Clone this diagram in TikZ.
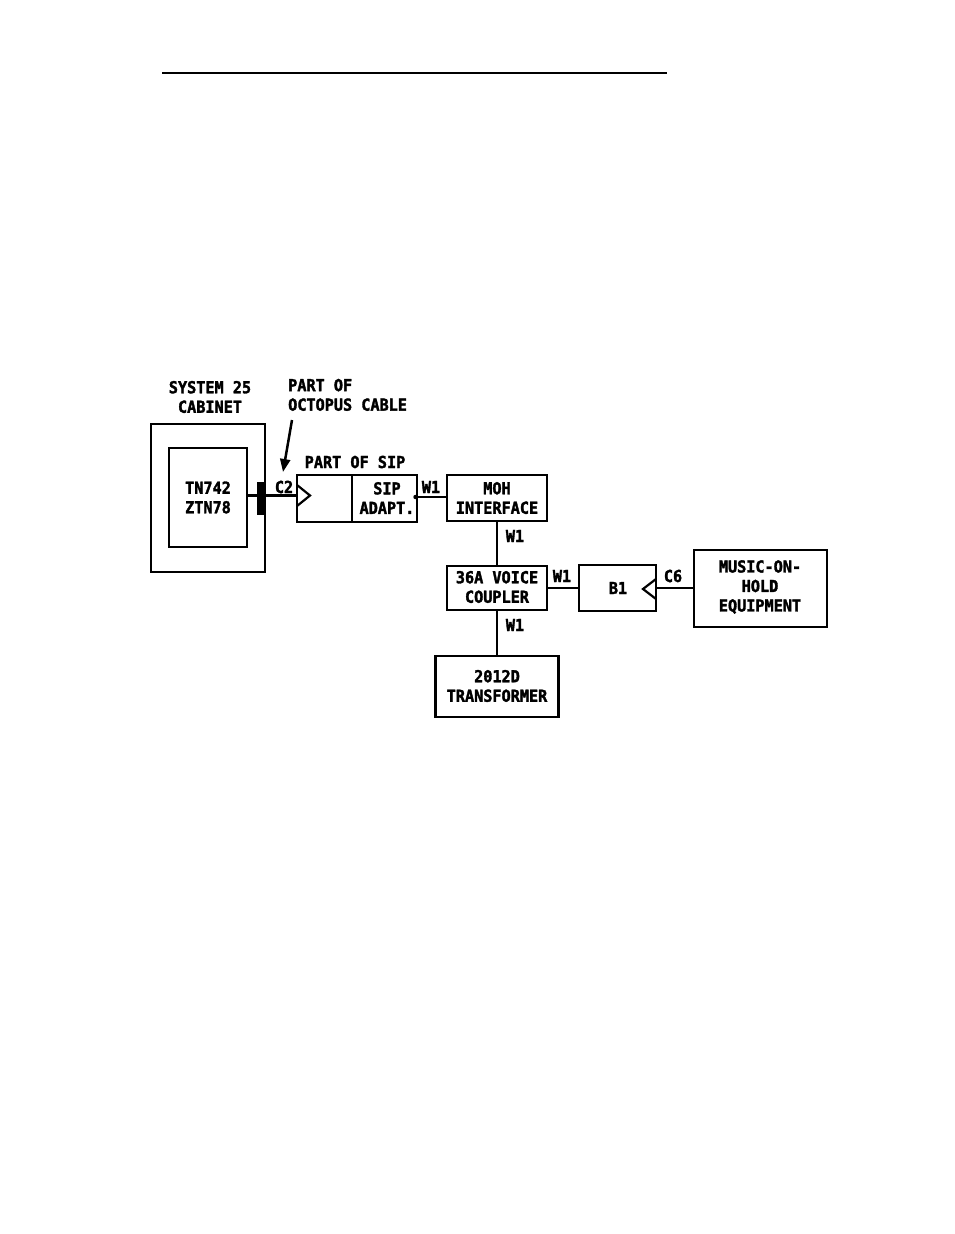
\documentclass[tikz,border=0pt]{standalone}
\usepackage{fontspec}
\setmonofont{DejaVu Sans Mono}[FakeStretch=0.92,FakeBold=2]
\usetikzlibrary{arrows.meta}
\begin{document}
\begin{tikzpicture}[x=1pt,y=-1pt,
  lbl/.style={font=\fontsize{16.5}{19.5}\selectfont\ttfamily\bfseries, inner sep=0pt, align=center},
  blk/.style={draw, line width=2.5pt, inner sep=0pt},
  wire/.style={line width=2.5pt},
  line cap=butt]
\useasboundingbox (0,0) rectangle (954,1234);
% top rule
\draw[line width=2pt] (162,73) -- (667,73);

% labels top
\node[lbl] (sys) at (210,397) {SYSTEM 25\\CABINET};
\node[lbl, anchor=west] (oct) at (288,397) {\begin{tabular}{@{}l@{}}PART OF\\OCTOPUS CABLE\end{tabular}};

% cabinet
\node[blk, minimum width=114pt, minimum height=148pt] (cab) at (208,498) {};
\node[blk, minimum width=78pt, minimum height=99pt] (inner) at (208,497.5) {};
\node[lbl] (tn) at (208,497.5) {TN742\\ZTN78};
\node[fill=black, minimum width=7pt, minimum height=33pt, inner sep=0pt] (bar) at (260.5,498.5) {};

% SIP box
\node[blk, minimum width=120pt, minimum height=47pt] (sip) at (357,498.5) {};
\coordinate (sipdiv1) at (352,475);
\coordinate (sipdiv2) at (352,522);
\draw[line width=2.5pt] (sipdiv1) -- (sipdiv2);
\node[lbl] (sipad) at (387,498) {SIP\\ADAPT.};
\node[lbl] (partsip) at (355,462) {PART OF SIP};
\coordinate (t1a) at (297,485);
\coordinate (t1b) at (310,495.5);
\coordinate (t1c) at (297,506);
\draw[line width=2.2pt, line join=miter] (t1a) -- (t1b) -- (t1c);

% C2 connection
\draw[wire] (inner.east |- 0,495.5) -- (sip.west |- 0,495.5);
\node[lbl] (c2) at (284,487) {C2};
\coordinate (arrstart) at (292,420);
\coordinate (arrtip) at (283,472);
\draw[line width=2.5pt, -{Triangle[length=13pt,width=10pt]}] (arrstart) -- (arrtip);

% MOH interface
\node[blk, minimum width=100pt, minimum height=46pt] (moh) at (497,498) {};
\node[lbl] (mohl) at (497,498) {MOH\\INTERFACE};
\draw[wire] (sip.east |- 0,497) -- (moh.west |- 0,497);
\fill (415.5,497) circle (2.2pt);
\node[lbl] (w1a) at (431,487) {W1};

% 36A voice coupler
\node[blk, minimum width=100pt, minimum height=44pt] (vc) at (497,588) {};
\node[lbl] (vcl) at (497,587) {36A VOICE\\COUPLER};
\draw[wire] (moh.south) -- (vc.north);
\node[lbl] (w1b) at (515,536) {W1};

% B1
\node[blk, minimum width=77pt, minimum height=46pt] (b1) at (617.5,588) {};
\node[lbl] (b1l) at (618,588) {B1};
\draw[wire] (vc.east) -- (b1.west);
\node[lbl] (w1c) at (562,576) {W1};
\coordinate (t2a) at (656,579);
\coordinate (t2b) at (643,589);
\coordinate (t2c) at (656,599);
\draw[line width=2.2pt, line join=miter] (t2a) -- (t2b) -- (t2c);

% Music-on-hold equipment
\node[blk, minimum width=133pt, minimum height=77pt] (mus) at (760.5,588.5) {};
\node[lbl] (musl) at (760,587) {MUSIC-ON-\\HOLD\\EQUIPMENT};
\draw[wire] (b1.east |- 0,588) -- (mus.west |- 0,588);
\node[lbl] (c6) at (673,576) {C6};

% transformer
\node[blk, minimum width=123pt, minimum height=61pt] (tr) at (497,686.5) {};
\node[lbl] (trl) at (497,686) {2012D\\TRANSFORMER};
\draw[wire] (vc.south) -- (tr.north);
\node[lbl] (w1d) at (515,625) {W1};
\end{tikzpicture}
\end{document}
